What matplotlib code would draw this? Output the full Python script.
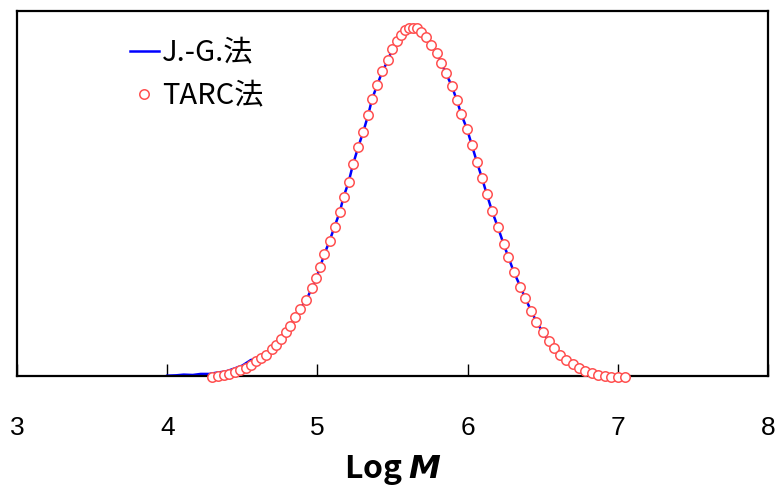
import matplotlib
matplotlib.use("Agg")
import matplotlib.pyplot as plt

plt.rcParams['font.family'] = ['Noto Sans CJK JP', 'DejaVu Sans']

# TARC法 (markers)
tarc_x = [4.300, 4.335, 4.375, 4.412, 4.450, 4.486, 4.524, 4.557, 4.591, 4.624,
          4.658, 4.696, 4.725, 4.758, 4.791, 4.820, 4.852, 4.885, 4.925, 4.963,
          4.992, 5.019, 5.047, 5.081, 5.114, 5.148, 5.174, 5.208, 5.237, 5.271,
          5.304, 5.338, 5.364, 5.398, 5.433, 5.471, 5.498, 5.527, 5.555, 5.584,
          5.610, 5.637, 5.664, 5.691, 5.721, 5.756, 5.794, 5.823, 5.856, 5.894,
          5.928, 5.957, 5.995, 6.028, 6.061, 6.095, 6.128, 6.162, 6.202, 6.240,
          6.272, 6.307, 6.351, 6.384, 6.424, 6.458, 6.501, 6.541, 6.578, 6.614,
          6.658, 6.701, 6.741, 6.781, 6.826, 6.868, 6.912, 6.957, 7.002, 7.046]
tarc_y = [-0.002, 0.000, 0.004, 0.007, 0.011, 0.017, 0.024, 0.032, 0.042, 0.052,
          0.060, 0.078, 0.089, 0.105, 0.126, 0.144, 0.169, 0.193, 0.218, 0.252,
          0.281, 0.314, 0.351, 0.388, 0.429, 0.470, 0.514, 0.558, 0.608, 0.657,
          0.700, 0.750, 0.796, 0.836, 0.876, 0.908, 0.940, 0.964, 0.980, 0.993,
          0.999, 1.001, 0.999, 0.990, 0.974, 0.951, 0.927, 0.900, 0.870, 0.834,
          0.793, 0.753, 0.711, 0.664, 0.616, 0.570, 0.522, 0.475, 0.427, 0.379,
          0.341, 0.300, 0.257, 0.223, 0.187, 0.156, 0.126, 0.101, 0.080, 0.059,
          0.046, 0.034, 0.022, 0.015, 0.008, 0.004, 0.000, -0.002, -0.003, -0.003]

# J.-G.法 (line): low-M tail read separately, rest follows the markers
jg_tail_x = [4.000, 4.060, 4.110, 4.170, 4.223, 4.280, 4.335, 4.390, 4.444, 4.500, 4.557]
jg_tail_y = [0.001, 0.002, 0.004, 0.003, 0.006, 0.006, 0.010, 0.013, 0.021, 0.030, 0.046]
jg_x = jg_tail_x + [x for x in tarc_x if 4.6 < x < 6.96]
jg_y = jg_tail_y + [y for x, y in zip(tarc_x, tarc_y) if 4.6 < x < 6.96]

xticks = [3, 4, 5, 6, 7, 8]

fig = plt.figure(figsize=(7.76, 4.86), dpi=100)
ax = fig.add_axes([0.0219, 0.2263, 0.9678, 0.7511])

ax.plot(jg_x, jg_y, color='#0000FF', lw=1.8, label='J.-G.法', zorder=2)
ax.plot(tarc_x, tarc_y, ls='none', marker='o', ms=6.8, mfc='white',
        mec='#FF5050', mew=1.1, label='TARC法', zorder=3, clip_on=False)

ax.set_xlim(3, 8)
ax.set_ylim(0, 1.049)
ax.set_xticks(xticks)
ax.set_yticks([])
ax.tick_params(axis='x', direction='in', length=8.5, width=1, pad=29,
               labelsize=19)
for lab in ax.get_xticklabels():
    lab.set_family(['Liberation Sans Narrow', 'Liberation Sans', 'DejaVu Sans'])
for s in ax.spines.values():
    s.set_linewidth(1.6)

ax.set_xlabel('Log $\\mathbfit{M}$', fontsize=23, fontweight='bold', labelpad=9)

leg = ax.legend(loc='upper left', bbox_to_anchor=(0.150, 0.925), frameon=False,
                fontsize=21, handlelength=1.0, handletextpad=0.1,
                labelspacing=0.45, borderaxespad=0, borderpad=0)

fig.savefig('out.png', dpi=100)
